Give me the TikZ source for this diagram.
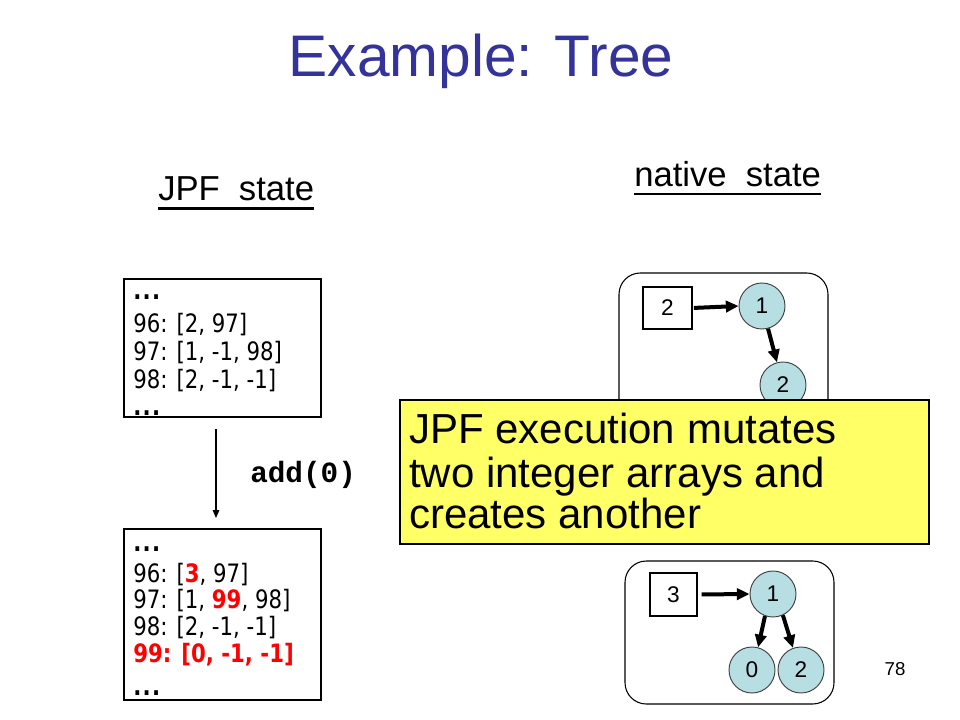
\documentclass[tikz,border=0pt]{standalone}
\usepackage{fontspec}
\setmainfont{Liberation Sans}
\newfontfamily\boxfont[FakeStretch=0.84]{DejaVu Sans}
\newfontfamily\codefont{Liberation Mono}
\usetikzlibrary{arrows.meta}
\definecolor{titleblue}{RGB}{51,51,153}
\definecolor{nodeblue}{RGB}{183,222,227}
\definecolor{noteyellow}{RGB}{255,255,102}
\definecolor{hotred}{RGB}{255,0,0}
\newcommand{\hot}[1]{\textcolor{hotred}{\textbf{#1}}}
\tikzset{
  memline/.style={anchor=base west, inner sep=0pt, font=\boxfont\fontsize{19pt}{22pt}\selectfont},
  membox/.style={draw=black, line width=0.8pt, minimum width=147.75pt, inner sep=0pt},
  heading/.style={anchor=base west, inner sep=0pt, font=\fontsize{26pt}{30pt}\selectfont},
  ul/.style={line width=2pt},
  notetext/.style={anchor=base west, inner sep=0pt, font=\fontsize{31.5pt}{32pt}\selectfont},
  frame/.style={draw=black, line width=0.8pt, rounded corners=16pt},
  sq/.style={draw=black, line width=0.8pt, fill=white, inner sep=0pt, font=\fontsize{17pt}{20pt}\selectfont},
  tn/.style={circle, draw=black!75, line width=0.7pt, fill=nodeblue, minimum size=34.5pt, inner sep=0pt, font=\fontsize{17pt}{20pt}\selectfont},
  ptr/.style={line width=3pt, -{Triangle[length=9.5pt,width=8.5pt]}},
  thinarrow/.style={line width=0.8pt, -{Triangle[length=6pt,width=5pt]}}
}
\begin{document}
\begin{tikzpicture}[x=0.75pt,y=-0.75pt]
\useasboundingbox[fill=white] (0,0) rectangle (960,720);

% title
\node[anchor=base, inner sep=0pt, text=titleblue, font=\fontsize{44pt}{50pt}\selectfont] (title) at (481,77) {Example: Tree};

% headings
\node[heading] (hjpf) at (158,201) {JPF\hspace{0.55em}state};
\draw[ul] ([yshift=-5.6pt]hjpf.base west) -- ([yshift=-5.6pt]hjpf.base east);
\node[heading] (hnat) at (634,187) {native\hspace{0.55em}state};
\draw[ul] ([yshift=-5.2pt]hnat.base west) -- ([yshift=-5.2pt]hnat.base east);

% JPF state before
\node[membox, minimum height=103.5pt] (b1) at (222.5,348) {};
\node[memline] (b1l0) at (133,300) {\textbf{.\kern1pt.\kern1pt.}};
\node[memline] (b1l1) at (133,332) {96: [2, 97]};
\node[memline] (b1l2) at (133,360) {97: [1, -1, 98]};
\node[memline] (b1l3) at (133,388) {98: [2, -1, -1]};
\node[memline] (b1l4) at (133,415) {\textbf{.\kern1pt.\kern1pt.}};

% JPF state after
\node[membox, minimum height=128.25pt] (b2) at (222.5,614.5) {};
\node[memline] (b2l0) at (133,551) {\textbf{.\kern1pt.\kern1pt.}};
\node[memline] (b2l1) at (133,582) {96: [\hot{3}, 97]};
\node[memline] (b2l2) at (133,608) {97: [1, \hot{99}, 98]};
\node[memline] (b2l3) at (133,635) {98: [2, -1, -1]};
\node[memline] (b2l4) at (133,662) {\hot{99: [0, -1, -1]}};
\node[memline] (b2l5) at (133,695) {\textbf{.\kern1pt.\kern1pt.}};

% transition
\coordinate (a1) at (216,429);
\coordinate (a2) at (216,518);
\draw[thinarrow] (a1) -- (a2);
\node[anchor=base west, inner sep=0pt, font=\codefont\bfseries\fontsize{22pt}{26pt}\selectfont] (op) at (250,482) {add(0)};

% native state before
\draw[frame] (619,273) rectangle (828,440);
\node[sq, minimum width=36.75pt, minimum height=31.5pt] (s1) at (667.5,308) {2};
\node[tn] (t1a) at (762,306) {1};
\node[tn] (t1b) at (783,385) {2};
\draw[ptr, shorten <=1pt] (s1.east) -- (t1a.west);
\draw[ptr] (t1a) -- (t1b);

% note
\node[draw=black, line width=0.8pt, fill=noteyellow, minimum width=396.75pt, minimum height=108pt, inner sep=0pt] (note) at (664.5,472) {};
\node[notetext] (n1) at (409,443) {JPF execution mutates};
\node[notetext] (n2) at (409,487) {two integer arrays and};
\node[notetext] (n3) at (409,528) {creates another};

% native state after
\draw[frame] (625,561) rectangle (834,704);
\node[sq, minimum width=35.25pt, minimum height=32.25pt] (s2) at (673.5,594.5) {3};
\node[tn] (t2a) at (773,594) {1};
\node[tn] (t2b) at (752,670) {0};
\node[tn] (t2c) at (801,670) {2};
\draw[ptr, shorten <=3pt] (s2.east) -- (t2a.west);
\draw[ptr] (t2a.250) -- (t2b.75);
\draw[ptr] (t2a.295) -- (t2c.110);

% page number
\node[anchor=base, inner sep=0pt, font=\fontsize{14pt}{16pt}\selectfont] (pg) at (895,675) {78};
\end{tikzpicture}
\end{document}
